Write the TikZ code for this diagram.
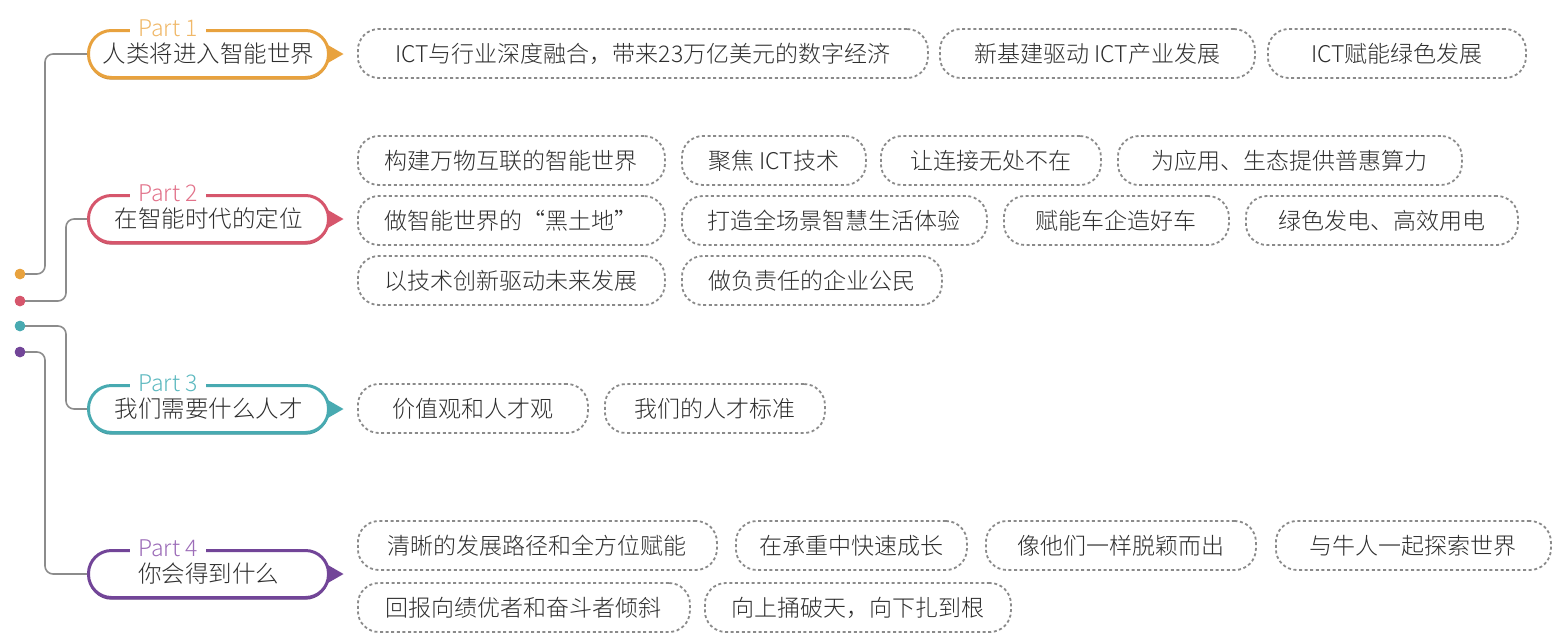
\documentclass[tikz,border=0pt]{standalone}
\usepackage{fontspec}
\IfFontExistsTF{Noto Sans CJK SC Light}
  {\setmainfont{Noto Sans CJK SC Light}}
  {\setmainfont{Noto Sans CJK SC}}
\usetikzlibrary{calc,shadows}
\definecolor{cOr}{HTML}{E8A23E}
\definecolor{cRe}{HTML}{D6566C}
\definecolor{cTe}{HTML}{48AAB1}
\definecolor{cPu}{HTML}{724598}
\definecolor{lOr}{HTML}{F0B868}
\definecolor{lRe}{HTML}{E2728A}
\definecolor{lTe}{HTML}{5DB9C0}
\definecolor{lPu}{HTML}{9C6CB8}
\definecolor{txt}{HTML}{2E2E2E}
\definecolor{dgr}{HTML}{8A8A8A}
\definecolor{lgr}{HTML}{8C8C8C}
\tikzset{
  dbox/.style={draw=dgr, line width=1.8pt, dash pattern=on 3pt off 2.6pt,
    rounded corners=21pt, minimum height=49pt, inner sep=0pt, anchor=west,
    text=txt, font=\fontsize{23}{27}\selectfont},
  partbox/.style={draw=#1, line width=3pt, fill=white, rounded corners=23pt,
    minimum width=240pt, minimum height=47pt, inner sep=0pt, anchor=west,
    text=txt, font=\fontsize{23.5}{27}\selectfont,
    drop shadow={shadow xshift=0pt, shadow yshift=-2.2pt, fill=#1!85!black, opacity=1}},
  partlabel/.style={fill=white, text=#1, inner xsep=8pt, inner ysep=0pt,
    font=\fontsize{23}{26}\selectfont},
  conn/.style={draw=lgr, line width=1.6pt, rounded corners=8pt},
  dotn/.style={circle, fill=#1, inner sep=0pt, minimum size=10.5pt},
}
\begin{document}
\begin{tikzpicture}[x=1pt,y=-1pt]
\useasboundingbox (0,0) rectangle (1563,643);
% part boxes
\node[partbox=cOr] (p1) at (87,54) {人类将进入智能世界};
\node[partbox=cRe] (p2) at (87,219) {在智能时代的定位};
\node[partbox=cTe] (p3) at (87,409) {我们需要什么人才};
\node[partbox=cPu] (p4) at (87,574) {你会得到什么};
\foreach \p/\c in {p1/cOr,p2/cRe,p3/cTe,p4/cPu}{
  \fill[\c] ($(\p.east)+(-3,-9.5)$) -- ($(\p.east)+(13.5,0)$) -- ($(\p.east)+(-3,9.5)$) -- cycle;
}
\node[partlabel=lOr] (l1) at (168,28.5) {Part 1};
\node[partlabel=lRe] (l2) at (168,193.5) {Part 2};
\node[partlabel=lTe] (l3) at (168,383.5) {Part 3};
\node[partlabel=lPu] (l4) at (168,548.5) {Part 4};
% dots and connectors
\node[dotn=cOr] (d1) at (20,274) {};
\node[dotn=cRe] (d2) at (20,301) {};
\node[dotn=cTe] (d3) at (20,326) {};
\node[dotn=cPu] (d4) at (20,352) {};
\draw[conn] (d1.center) -- ++(25,0) |- (p1.west);
\draw[conn] (d2.center) -- ++(46,0) |- (p2.west);
\draw[conn] (d3.center) -- ++(46,0) |- (p3.west);
\draw[conn] (d4.center) -- ++(25,0) |- (p4.west);
\node[dotn=cOr] at (d1) {};
\node[dotn=cRe] at (d2) {};
\node[dotn=cTe] at (d3) {};
\node[dotn=cPu] at (d4) {};
% row 1
\node[dbox, minimum width=570pt] (a1) at (357,53.5) {ICT与行业深度融合，带来23万亿美元的数字经济};
\node[dbox, minimum width=315pt] (a2) at (939,53.5) {新基建驱动 ICT产业发展};
\node[dbox, minimum width=258pt] (a3) at (1267,53.5) {ICT赋能绿色发展};
% part 2
\node[dbox, minimum width=307pt] (b1) at (357,160.5) {构建万物互联的智能世界};
\node[dbox, minimum width=184pt] (b2) at (681,160.5) {聚焦 ICT技术};
\node[dbox, minimum width=220pt] (b3) at (880,160.5) {让连接无处不在};
\node[dbox, minimum width=344pt] (b4) at (1117,160.5) {为应用、生态提供普惠算力};
\node[dbox, minimum width=307pt] (b5) at (357,220.5) {做智能世界的“黑土地”};
\node[dbox, minimum width=305pt] (b6) at (681,220.5) {打造全场景智慧生活体验};
\node[dbox, minimum width=225pt] (b7) at (1003,220.5) {赋能车企造好车};
\node[dbox, minimum width=272pt] (b8) at (1245,220.5) {绿色发电、高效用电};
\node[dbox, minimum width=307pt] (b9) at (357,280.5) {以技术创新驱动未来发展};
\node[dbox, minimum width=260pt] (b10) at (681,280.5) {做负责任的企业公民};
% part 3
\node[dbox, minimum width=230pt] (c1) at (357,408.5) {价值观和人才观};
\node[dbox, minimum width=220pt] (c2) at (604,408.5) {我们的人才标准};
% part 4
\node[dbox, minimum width=359pt] (e1) at (357,545.5) {清晰的发展路径和全方位赋能};
\node[dbox, minimum width=231pt] (e2) at (735,545.5) {在承重中快速成长};
\node[dbox, minimum width=270pt] (e3) at (985,545.5) {像他们一样脱颖而出};
\node[dbox, minimum width=275pt] (e4) at (1275,545.5) {与牛人一起探索世界};
\node[dbox, minimum width=332pt] (e5) at (357,607.5) {回报向绩优者和奋斗者倾斜};
\node[dbox, minimum width=306pt] (e6) at (704,607.5) {向上捅破天，向下扎到根};
\end{tikzpicture}
\end{document}
